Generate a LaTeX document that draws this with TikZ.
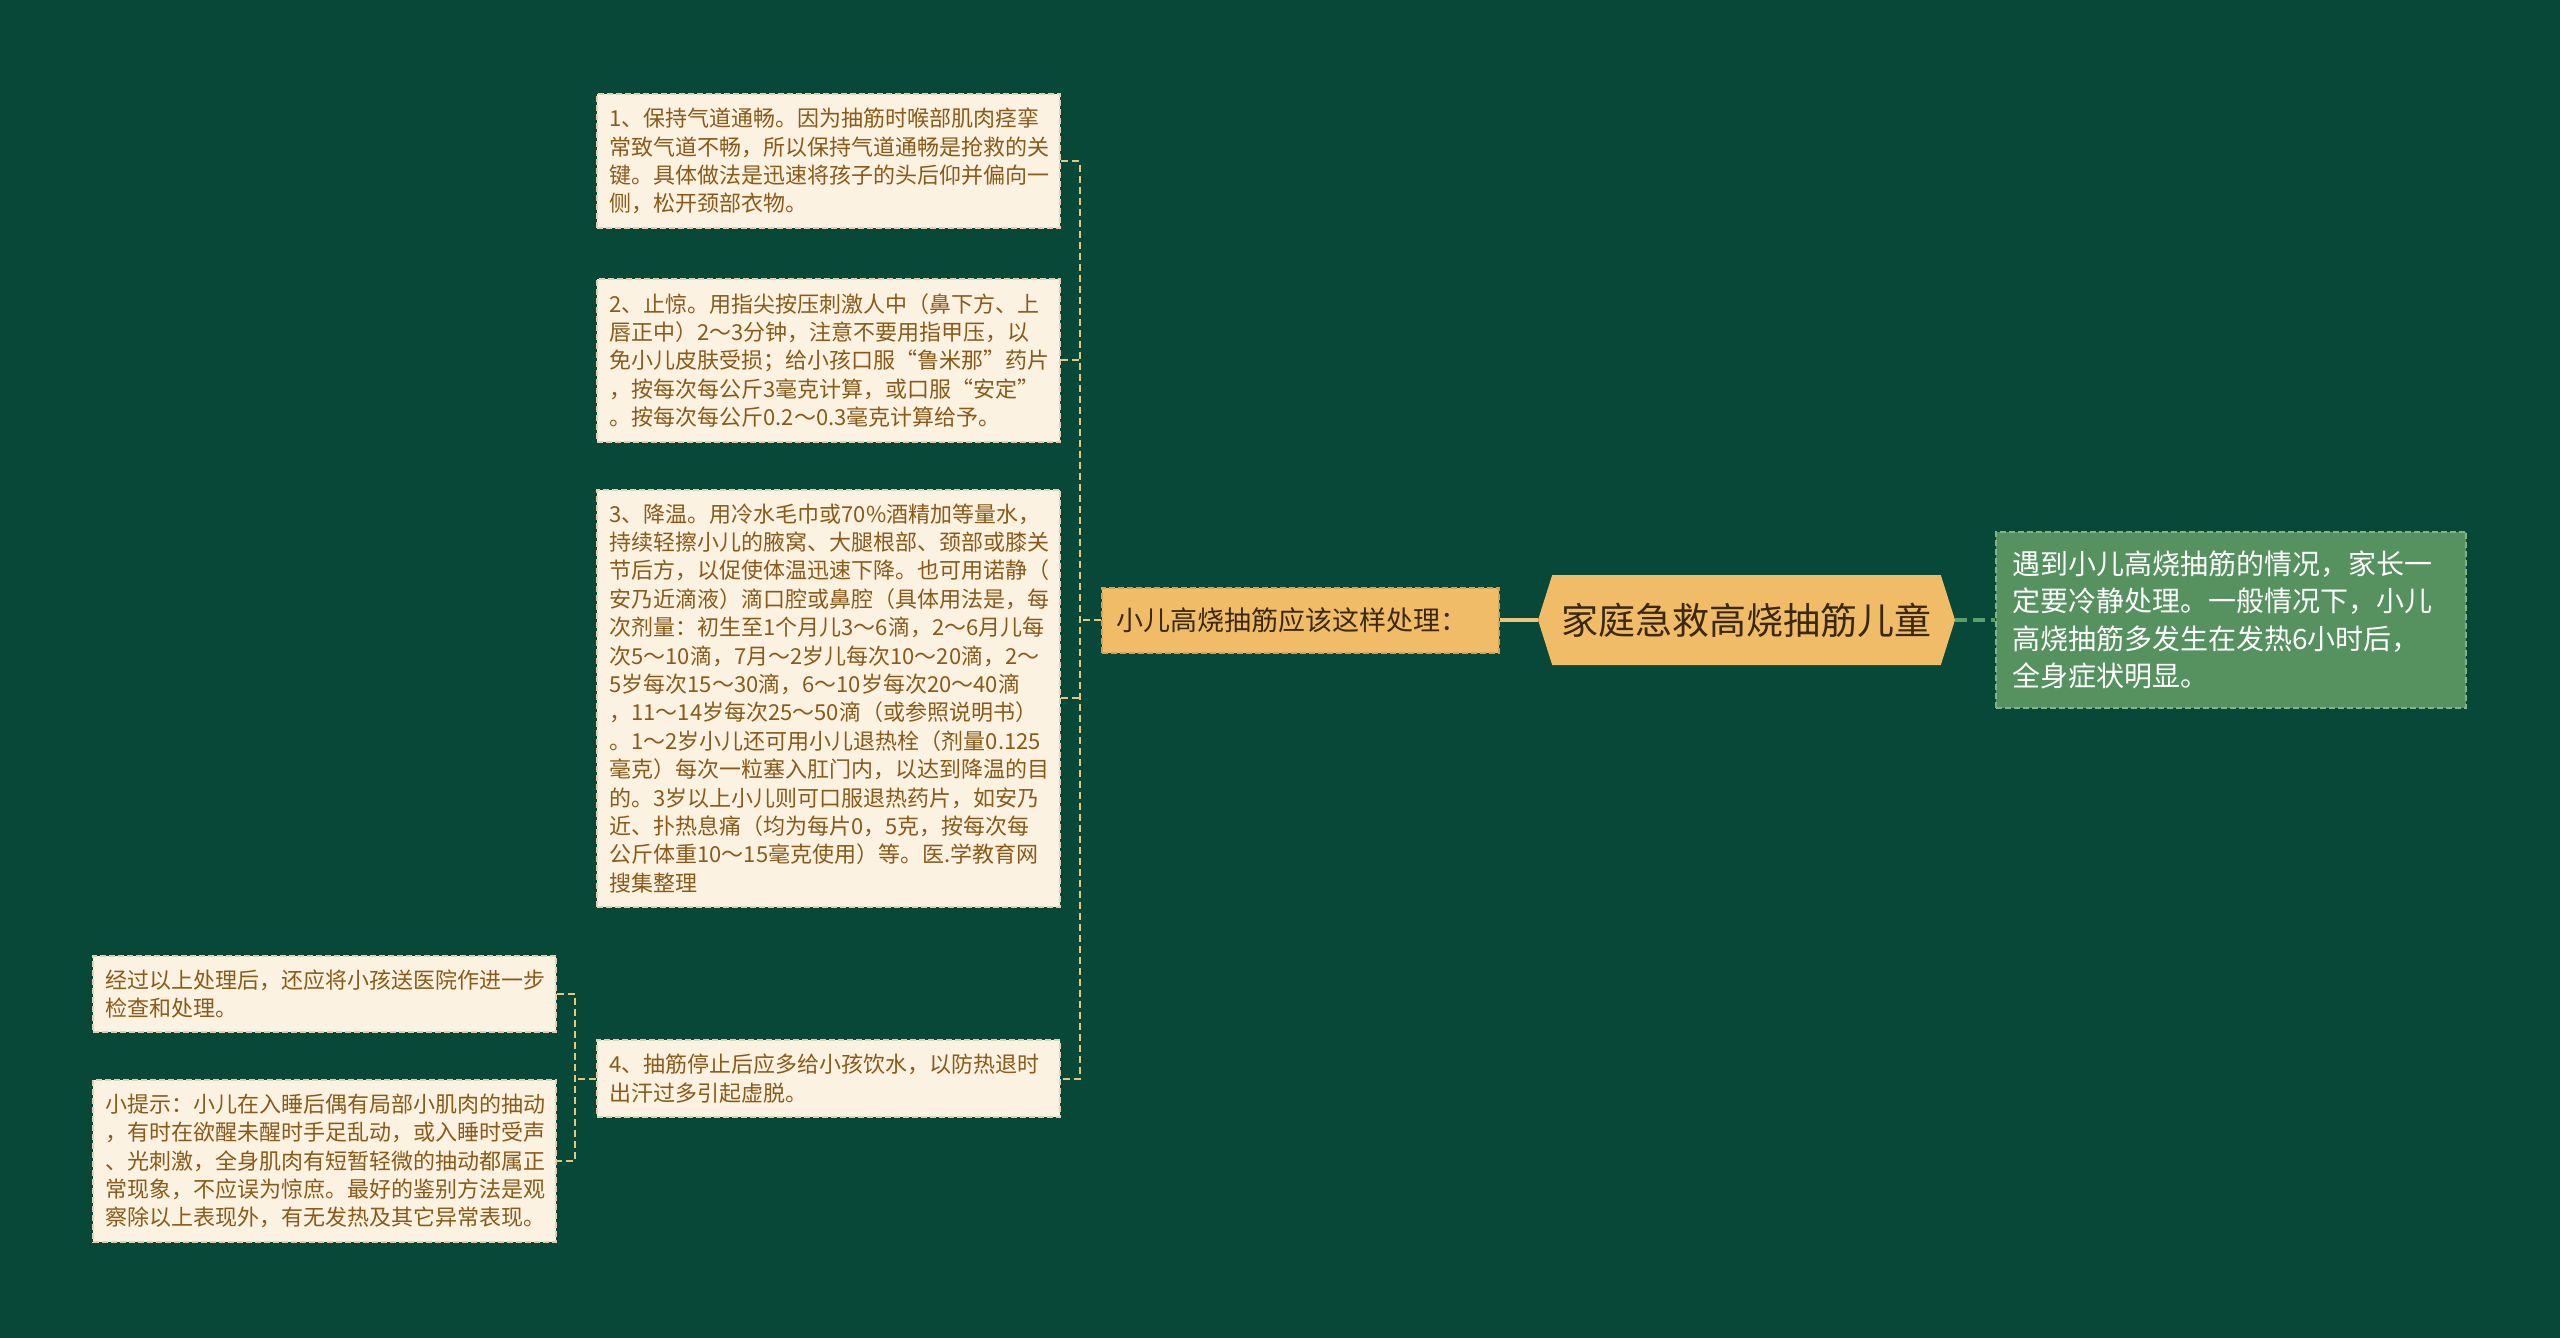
\documentclass[tikz,border=0pt]{standalone}
\usepackage{fontspec}
\setmainfont{Noto Sans CJK SC}
\usepackage{tikz}
\usetikzlibrary{positioning, shapes.symbols}

\definecolor{bgcol}{RGB}{7,72,56}
\definecolor{leaffill}{RGB}{252,242,226}
\definecolor{leafdraw}{RGB}{226,208,176}
\definecolor{leaftext}{RGB}{138,90,24}
\definecolor{midfill}{RGB}{240,188,104}
\definecolor{middraw}{RGB}{214,160,80}
\definecolor{midtext}{RGB}{58,40,16}
\definecolor{notefill}{RGB}{86,145,96}
\definecolor{notedraw}{RGB}{128,180,132}
\definecolor{tanline}{RGB}{232,200,120}
\definecolor{greenline}{RGB}{92,158,108}

\begin{document}
\begin{tikzpicture}[
    x=0.5pt, y=-0.5pt,
    leafbox/.style={
        draw=leafdraw,
        fill=leaffill,
        dash pattern=on 3pt off 1.5pt,
        line width=1pt,
        rectangle,
        text width=219pt,
        inner xsep=6.25pt,
        inner ysep=7pt,
        align=left,
        text=leaftext,
        font=\fontsize{11}{14.2}\selectfont
    },
    midbox/.style={
        draw=middraw,
        fill=midfill,
        dash pattern=on 3pt off 1.5pt,
        line width=1pt,
        rectangle,
        text width=183.5pt,
        inner xsep=7.5pt,
        minimum height=32.5pt,
        align=left,
        text=midtext,
        font=\fontsize{13.5}{16}\selectfont
    },
    rootbox/.style={
        signal,
        signal to=west and east,
        signal pointer angle=145,
        fill=midfill,
        minimum width=208.5pt,
        minimum height=45pt,
        text=midtext,
        font=\fontsize{18.5}{22}\selectfont
    },
    notebox/.style={
        draw=notedraw,
        fill=notefill,
        dash pattern=on 3pt off 1.5pt,
        line width=1pt,
        rectangle,
        text width=219pt,
        inner xsep=8pt,
        inner ysep=9.5pt,
        align=left,
        text=white,
        font=\fontsize{14}{18.75}\selectfont
    },
    treeline/.style={draw=tanline, line width=1pt, dash pattern=on 3.5pt off 2pt},
    linkline/.style={draw=tanline, line width=2pt},
    noteline/.style={draw=greenline, line width=2pt, dash pattern=on 6pt off 3pt}
]

% Page
\useasboundingbox (0,0) rectangle (2560,1338);
\fill[bgcol] (0,0) rectangle (2560,1338);

% Main nodes
\node[rootbox] (root) at (1746.5,620) {家庭急救高烧抽筋儿童};
\node[midbox, left=19pt of root] (how) {小儿高烧抽筋应该这样处理：};
\node[notebox, right=20pt of root] (note) {遇到小儿高烧抽筋的情况，家长一\\定要冷静处理。一般情况下，小儿\\高烧抽筋多发生在发热6小时后，\\全身症状明显。};

% Steps - stacked vertically
\node[leafbox, anchor=north east] (step1) at (1061,93) {1、保持气道通畅。因为抽筋时喉部肌肉痉挛\\常致气道不畅，所以保持气道通畅是抢救的关\\键。具体做法是迅速将孩子的头后仰并偏向一\\侧，松开颈部衣物。};
\node[leafbox, below=24.5pt of step1] (step2) {2、止惊。用指尖按压刺激人中（鼻下方、上\\唇正中）2～3分钟，注意不要用指甲压，以\\免小儿皮肤受损；给小孩口服“鲁米那”药片\\，按每次每公斤3毫克计算，或口服“安定”\\。按每次每公斤0.2～0.3毫克计算给予。};
\node[leafbox, below=23pt of step2] (step3) {3、降温。用冷水毛巾或70\%酒精加等量水，\\持续轻擦小儿的腋窝、大腿根部、颈部或膝关\\节后方，以促使体温迅速下降。也可用诺静（\\安乃近滴液）滴口腔或鼻腔（具体用法是，每\\次剂量：初生至1个月儿3～6滴，2～6月儿每\\次5～10滴，7月～2岁儿每次10～20滴，2～\\5岁每次15～30滴，6～10岁每次20～40滴\\，11～14岁每次25～50滴（或参照说明书）\\。1～2岁小儿还可用小儿退热栓（剂量0.125\\毫克）每次一粒塞入肛门内，以达到降温的目\\的。3岁以上小儿则可口服退热药片，如安乃\\近、扑热息痛（均为每片0，5克，按每次每\\公斤体重10～15毫克使用）等。医.学教育网\\搜集整理};
\node[leafbox, below=65.5pt of step3] (step4) {4、抽筋停止后应多给小孩饮水，以防热退时\\出汗过多引起虚脱。};

% Notes left of step 4
\node[leafbox, anchor=east] (after) at (557,994) {经过以上处理后，还应将小孩送医院作进一步\\检查和处理。};
\node[leafbox, anchor=east] (tip) at (557,1161) {小提示：小儿在入睡后偶有局部小肌肉的抽动\\，有时在欲醒未醒时手足乱动，或入睡时受声\\、光刺激，全身肌肉有短暂轻微的抽动都属正\\常现象，不应误为惊庶。最好的鉴别方法是观\\察除以上表现外，有无发热及其它异常表现。};

% Links from the root
\draw[linkline] (root.west) -- (how.east);
\draw[noteline] (root.east) -- (note.west);

% Tree of steps
\coordinate (trunk) at ([xshift=-10.5pt]how.west);
\draw[treeline] (step1.east) -| (trunk |- step4.east) -- (step4.east);
\draw[treeline] (step2.east) -- (trunk |- step2.east);
\draw[treeline] (step3.east) -- (trunk |- step3.east);
\draw[treeline] (how.west) -- (trunk);

% Tree of notes
\coordinate (trunk4) at ([xshift=-10.5pt]step4.west);
\draw[treeline] (after.east) -| (trunk4 |- tip.east) -- (tip.east);
\draw[treeline] (step4.west) -- (trunk4);

\end{tikzpicture}
\end{document}
